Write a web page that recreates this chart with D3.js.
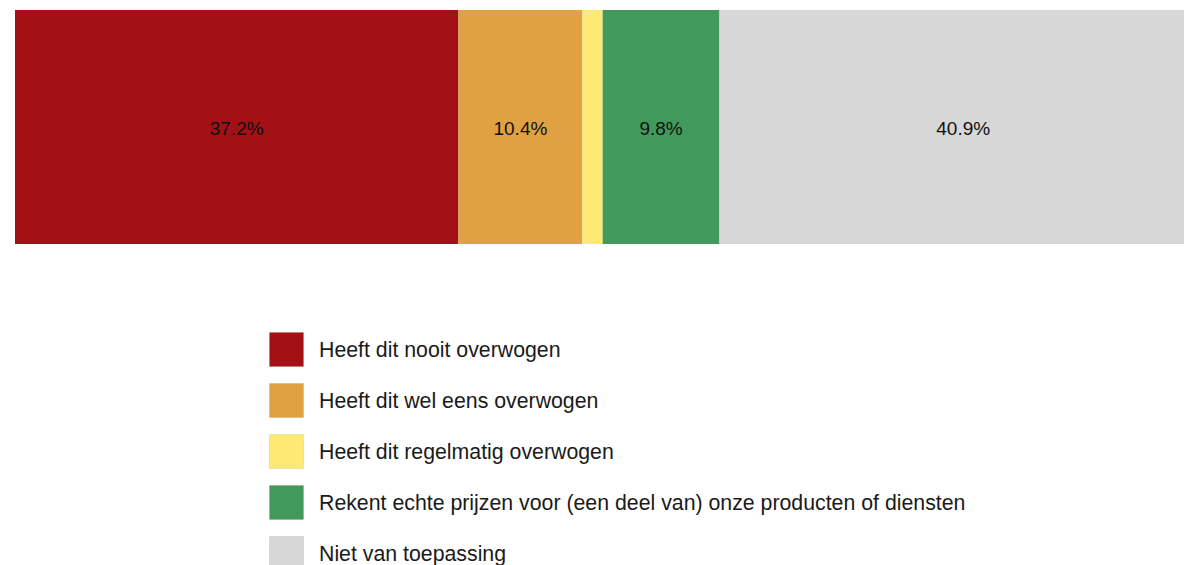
<!DOCTYPE html>
<html>
<head>
<meta charset="utf-8">
<script src="https://cdn.jsdelivr.net/npm/d3@7"></script>
<style>
  body { margin: 0; background: #fff; overflow: hidden; }
  text { font-family: "Liberation Sans", Arial, sans-serif; }
</style>
</head>
<body>
<div id="chart"></div>
<script>
const w = 1184;
const h = 565;

const categories = [
  'Heeft dit nooit overwogen',
  'Heeft dit wel eens overwogen',
  'Heeft dit regelmatig overwogen',
  'Rekent echte prijzen voor (een deel van) onze producten of diensten',
  'Niet van toepassing'
];
const values = [37.2, 10.4, 1.7, 9.8, 40.9];
const labels = ['37.2%', '10.4%', '', '9.8%', '40.9%'];
const colors = ['#a31015', '#e0a142', '#fde974', '#41995c', '#d7d7d7'];

// stack the segments
let acc = 0;
const segs = values.map((v, i) => {
  const s = { key: categories[i], x0: acc, x1: acc + v, label: labels[i], color: colors[i] };
  acc += v;
  return s;
});

const xScale = d3.scaleLinear()
  .domain([0, 100])
  .range([15, 1207]);

const yScale = d3.scaleBand()
  .domain(['bar'])
  .range([10, 244]);

const svg = d3.select('#chart')
  .append('svg')
  .attr('width', w)
  .attr('height', h);

svg.selectAll('rect.seg')
  .data(segs)
  .enter()
  .append('rect')
  .attr('class', 'seg')
  .attr('x', d => xScale(d.x0))
  .attr('y', yScale('bar'))
  .attr('width', d => xScale(d.x1) - xScale(d.x0))
  .attr('height', yScale.bandwidth())
  .attr('fill', d => d.color);

svg.selectAll('text.lbl')
  .data(segs.filter(d => d.label))
  .enter()
  .append('text')
  .attr('class', 'lbl')
  .attr('x', d => (xScale(d.x0) + xScale(d.x1)) / 2)
  .attr('y', yScale('bar') + yScale.bandwidth() / 2 + 1)
  .attr('dy', '0.35em')
  .attr('text-anchor', 'middle')
  .attr('font-size', '19px')
  .attr('fill', '#111')
  .text(d => d.label);

// legend
const legY = d3.scaleBand()
  .domain(categories)
  .range([324, 579]);

const leg = svg.selectAll('g.leg')
  .data(segs)
  .enter()
  .append('g')
  .attr('class', 'leg')
  .attr('transform', d => 'translate(269,' + legY(d.key) + ')');

leg.append('rect')
  .attr('x', 0.5)
  .attr('y', 8.5)
  .attr('width', 34)
  .attr('height', 34)
  .attr('fill', d => d.color)
  .attr('stroke', 'rgba(0,0,0,0.08)')
  .attr('stroke-width', 1);

leg.append('text')
  .attr('x', 50)
  .attr('y', 26)
  .attr('dy', '0.35em')
  .attr('font-size', '21.3px')
  .attr('fill', '#1a1a1a')
  .text(d => d.key);
</script>
</body>
</html>
